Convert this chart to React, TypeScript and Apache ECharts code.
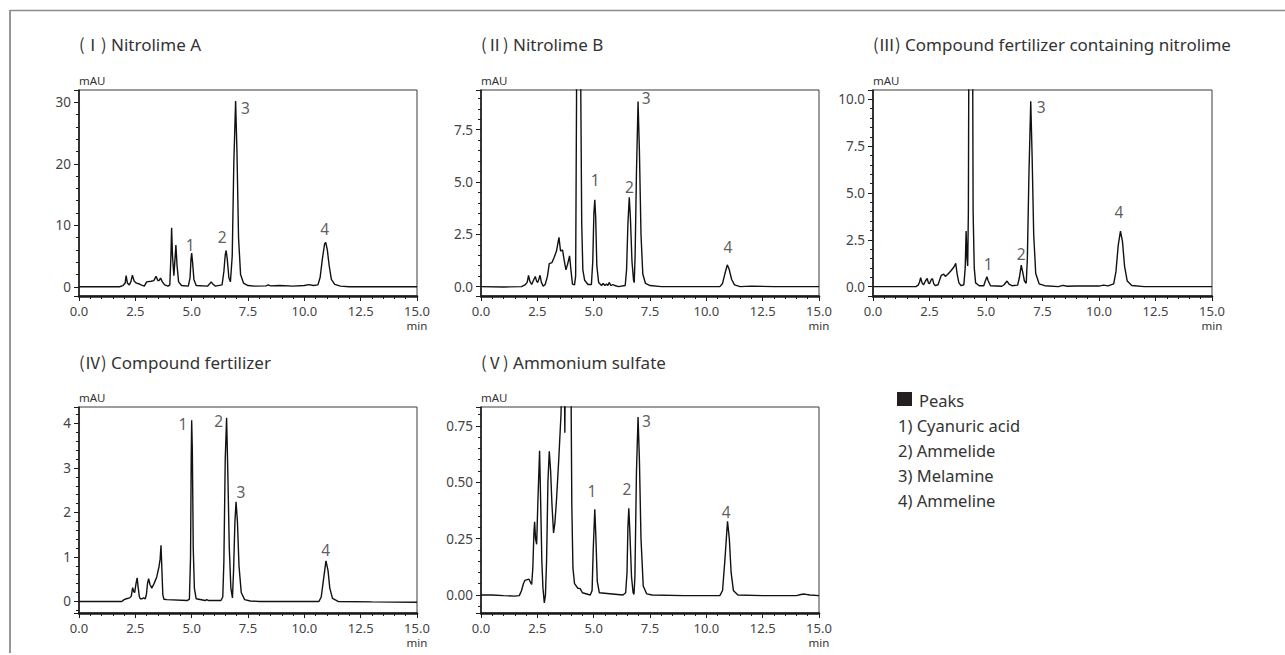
import React, { useEffect, useRef } from 'react';
import * as echarts from 'echarts';

// ---------- data ----------
const panelTitles = ['Nitrolime A', 'Nitrolime B', 'Compound fertilizer containing nitrolime', 'Compound fertilizer', 'Ammonium sulfate'];
const panelNumerals = ['(Ⅰ)', '(Ⅱ)', '(Ⅲ)', '(Ⅳ)', '(Ⅴ)'];
const legendTitle = 'Peaks';
const legendItems = ['1) Cyanuric acid', '2) Ammelide', '3) Melamine', '4) Ammeline'];

const xTicksMin = 0;
const xTicksMax = 15;
const xTickStep = 2.5;

// y axis ranges: [min, max, major step, decimals]
const yRangeI = [-1.5, 32, 10, 0];
const yRangeII = [-0.45, 9.4, 2.5, 1];
const yRangeIII = [-0.5, 10.5, 2.5, 1];
const yRangeIV = [-0.26, 4.37, 1, 0];
const yRangeV = [-0.08, 0.834, 0.25, 2];

// chromatograms [time (min), mAU]
const traceI = [
  [0, 0], [1.8, 0], [1.95, 0.2], [2.05, 0.6], [2.09, 1.8], [2.15, 0.6], [2.23, 0.3], [2.3, 0.8], [2.37, 1.9], [2.45, 0.9],
  [2.55, 0.6], [2.65, 0.5], [2.75, 0.3], [2.9, 0.1], [3.0, 0.8], [3.2, 0.9], [3.32, 1.0], [3.42, 1.7], [3.5, 1.0], [3.55, 1.0],
  [3.62, 1.4], [3.7, 0.8], [3.8, 0.3], [3.95, 0.1], [4.03, 0.3], [4.08, 5], [4.11, 9.6], [4.15, 5], [4.21, 1.8], [4.26, 4.5],
  [4.3, 6.8], [4.35, 3.5], [4.42, 0.8], [4.55, 0.2], [4.85, 0.1], [4.93, 1.5], [4.97, 4.5], [5.0, 5.5], [5.04, 4.0], [5.1, 1.2],
  [5.2, 0.2], [5.7, 0.1], [5.8, 0.5], [5.87, 0.8], [5.95, 0.4], [6.05, 0.1], [6.35, 0.3], [6.43, 2.5], [6.49, 5.2], [6.53, 5.9],
  [6.58, 4.5], [6.65, 1.5], [6.72, 0.8], [6.8, 5], [6.87, 20], [6.95, 30.2], [7.01, 22], [7.08, 8], [7.17, 2], [7.3, 0.6],
  [7.5, 0.2], [7.8, 0.1], [8.3, 0.15], [8.4, 0.3], [8.5, 0.15], [8.9, 0.2], [9.5, 0.1], [10.0, 0.2], [10.2, 0.35], [10.4, 0.2],
  [10.6, 0.3], [10.7, 1.5], [10.8, 4.5], [10.9, 7.0], [10.95, 7.2], [11.02, 6], [11.1, 3.5], [11.2, 1.2], [11.35, 0.4],
  [11.6, 0.1], [12, 0], [15, 0],
];
const traceII = [
  [0, 0], [1.0, -0.02], [1.8, 0.0], [1.95, 0.08], [2.05, 0.2], [2.11, 0.53], [2.17, 0.25], [2.25, 0.1], [2.33, 0.3], [2.41, 0.48],
  [2.47, 0.25], [2.52, 0.2], [2.58, 0.4], [2.62, 0.54], [2.68, 0.2], [2.76, 0.02], [2.85, 0.1], [2.95, 0.5], [3.03, 1.1],
  [3.15, 1.15], [3.25, 1.4], [3.35, 1.7], [3.46, 2.35], [3.53, 1.7], [3.62, 1.75], [3.7, 1.2], [3.77, 0.8], [3.85, 1.1],
  [3.93, 1.47], [4.0, 0.7], [4.06, 0.12], [4.15, 0.08], [4.2, 0.5], [4.24, 9], [4.28, 30], [4.34, 45], [4.4, 30], [4.43, 9],
  [4.47, 3], [4.52, 0.8], [4.6, 0.3], [4.75, 0.1], [4.9, 0.1], [4.96, 1.2], [5.01, 3.5], [5.05, 4.15], [5.09, 3.3], [5.14, 1.0],
  [5.22, 0.2], [5.35, 0.05], [5.42, 0.15], [5.5, 0.05], [5.57, 0.12], [5.63, 0.05], [5.69, 0.2], [5.76, 0.05], [5.85, 0.1],
  [5.94, 0.05], [6.1, 0.0], [6.4, 0.05], [6.46, 0.8], [6.52, 3.0], [6.58, 4.27], [6.63, 3.3], [6.7, 1.2], [6.77, 0.3],
  [6.8, 0.19], [6.84, 1.5], [6.9, 5.5], [6.97, 8.85], [7.03, 6.5], [7.1, 2.5], [7.18, 0.6], [7.3, 0.15], [7.5, 0.05], [8, 0.0],
  [10.6, 0.0], [10.72, 0.15], [10.82, 0.6], [10.93, 1.04], [11.02, 0.8], [11.12, 0.35], [11.25, 0.08], [11.5, 0.0],
  [12, 0.02], [13, 0.0], [15, 0.0],
];
const traceIII = [
  [0, 0], [1.9, 0.0], [2.0, 0.08], [2.06, 0.25], [2.11, 0.48], [2.17, 0.2], [2.24, 0.1], [2.32, 0.3], [2.4, 0.44], [2.45, 0.2],
  [2.5, 0.15], [2.57, 0.35], [2.63, 0.43], [2.69, 0.15], [2.76, 0.05], [2.88, 0.1], [2.96, 0.4], [3.02, 0.6], [3.13, 0.67],
  [3.2, 0.55], [3.3, 0.65], [3.45, 0.85], [3.58, 1.05], [3.66, 1.24], [3.72, 0.7], [3.8, 0.2], [3.9, 0.05], [4.02, 0.1],
  [4.08, 1.0], [4.12, 2.97], [4.16, 1.5], [4.19, 1.1], [4.22, 4], [4.26, 20], [4.33, 45], [4.39, 20], [4.43, 4], [4.48, 1.0],
  [4.54, 0.2], [4.7, 0.05], [4.9, 0.05], [4.97, 0.3], [5.04, 0.53], [5.1, 0.3], [5.2, 0.05], [5.7, 0.02], [5.8, 0.1],
  [5.93, 0.3], [6.03, 0.12], [6.15, 0.05], [6.4, 0.08], [6.48, 0.5], [6.56, 1.15], [6.63, 0.75], [6.7, 0.3], [6.78, 0.18],
  [6.83, 1.5], [6.9, 6], [6.98, 9.9], [7.04, 7], [7.11, 2.8], [7.2, 0.7], [7.35, 0.15], [7.6, 0.05], [8.2, 0.0], [8.4, 0.07],
  [8.6, 0.02], [9.0, 0.03], [10.0, 0.03], [10.2, 0.08], [10.4, 0.04], [10.65, 0.15], [10.75, 0.8], [10.85, 2.2], [10.95, 2.97],
  [11.04, 2.4], [11.13, 1.1], [11.25, 0.3], [11.45, 0.06], [12.0, 0.0], [15, 0.0],
];
const traceIV = [
  [0, 0], [1.9, 0.0], [2.0, 0.04], [2.1, 0.06], [2.25, 0.08], [2.32, 0.12], [2.38, 0.31], [2.43, 0.22], [2.47, 0.2], [2.53, 0.4],
  [2.58, 0.53], [2.63, 0.3], [2.68, 0.1], [2.72, 0.06], [2.8, 0.06], [2.86, 0.08], [2.94, 0.06], [2.99, 0.15], [3.04, 0.4],
  [3.09, 0.51], [3.15, 0.38], [3.23, 0.3], [3.33, 0.4], [3.45, 0.55], [3.55, 0.78], [3.6, 0.95], [3.64, 1.26], [3.68, 0.7],
  [3.72, 0.15], [3.77, 0.05], [3.9, 0.04], [4.8, 0.02], [4.9, 0.05], [4.95, 1.0], [4.98, 3.2], [5.0, 4.07], [5.03, 3.4],
  [5.07, 1.2], [5.12, 0.3], [5.2, 0.06], [5.6, 0.02], [5.67, 0.04], [5.75, 0.02], [6.3, 0.02], [6.38, 0.1], [6.43, 0.9],
  [6.49, 3.2], [6.55, 4.13], [6.6, 3.0], [6.67, 1.2], [6.74, 0.3], [6.81, 0.08], [6.86, 0.7], [6.92, 1.8], [6.97, 2.24],
  [7.03, 1.8], [7.1, 0.8], [7.2, 0.2], [7.35, 0.04], [7.6, 0.01], [8, 0.0], [10.65, 0.0], [10.75, 0.1], [10.84, 0.45],
  [10.96, 0.91], [11.05, 0.7], [11.13, 0.3], [11.25, 0.07], [11.5, 0.0], [13, -0.01], [15, -0.02],
];
const traceV = [
  [0, 0], [0.5, 0.0], [1.0, -0.003], [1.5, -0.005], [1.7, -0.003], [1.8, 0.02], [1.88, 0.05], [1.95, 0.065], [2.05, 0.068],
  [2.13, 0.07], [2.2, 0.055], [2.25, 0.047], [2.3, 0.12], [2.35, 0.28], [2.38, 0.325], [2.42, 0.25], [2.47, 0.225], [2.52, 0.4],
  [2.6, 0.64], [2.65, 0.4], [2.7, 0.15], [2.75, 0.03], [2.81, -0.035], [2.86, 0.0], [2.91, 0.15], [2.97, 0.5], [3.03, 0.638],
  [3.09, 0.55], [3.15, 0.4], [3.22, 0.275], [3.28, 0.32], [3.35, 0.42], [3.45, 0.6], [3.55, 0.8], [3.62, 1.1], [3.68, 1.2],
  [3.72, 0.72], [3.76, 1.2], [3.85, 4], [3.93, 4], [3.99, 1.0], [4.03, 0.4], [4.08, 0.12], [4.15, 0.05], [4.3, 0.03],
  [4.4, 0.028], [4.5, 0.01], [4.85, 0.0], [4.93, 0.02], [4.98, 0.2], [5.05, 0.38], [5.1, 0.25], [5.16, 0.06], [5.25, 0.01],
  [6.3, 0.0], [6.42, 0.01], [6.48, 0.1], [6.52, 0.3], [6.56, 0.385], [6.61, 0.27], [6.68, 0.08], [6.75, 0.01], [6.79, 0.003],
  [6.83, 0.08], [6.9, 0.55], [6.97, 0.79], [7.03, 0.6], [7.1, 0.25], [7.2, 0.04], [7.35, 0.005], [7.6, 0.0], [9.0, -0.003],
  [10.6, -0.003], [10.72, 0.02], [10.82, 0.15], [10.94, 0.327], [11.02, 0.25], [11.1, 0.1], [11.2, 0.02], [11.4, 0.0],
  [12.5, -0.003], [14.0, -0.003], [14.2, 0.002], [14.35, 0.004], [14.6, 0.0], [15, -0.003],
];

// peak number labels [time, mAU, text]
const peakLabelsI = [[4.96, 6.66, '1'], [6.38, 8.07, '2'], [7.41, 29.0, '3'], [10.92, 9.26, '4']];
const peakLabelsII = [[5.09, 5.07, '1'], [6.61, 4.74, '2'], [7.35, 8.97, '3'], [10.98, 1.87, '4']];
const peakLabelsIII = [[5.12, 1.19, '1'], [6.58, 1.74, '2'], [7.46, 9.59, '3'], [10.9, 3.96, '4']];
const peakLabelsIV = [[4.63, 3.98, '1'], [6.22, 4.04, '2'], [7.21, 2.44, '3'], [10.97, 1.15, '4']];
const peakLabelsV = [[4.94, 0.46, '1'], [6.5, 0.468, '2'], [7.36, 0.768, '3'], [10.9, 0.364, '4']];

// ---------- layout / style ----------
const FONT = "'Noto Sans', 'Open Sans', sans-serif";
const CJK = "'Noto Sans CJK JP', 'Noto Sans', sans-serif";
const TEXT = '#333333';
const AXIS = '#1a1a1a';

const grids = [
  { left: 79, top: 90, width: 338, height: 206 },
  { left: 481, top: 90, width: 338, height: 206 },
  { left: 873, top: 90, width: 339, height: 206 },
  { left: 79, top: 407, width: 338, height: 206 },
  { left: 481, top: 407, width: 338, height: 206 },
];
const traces = [traceI, traceII, traceIII, traceIV, traceV];
const yRanges = [yRangeI, yRangeII, yRangeIII, yRangeIV, yRangeV];
const peakLabels = [peakLabelsI, peakLabelsII, peakLabelsIII, peakLabelsIV, peakLabelsV];
const titleY = [44, 44, 44, 362, 362];

function isMultiple(v: number, step: number) {
  const r = v / step;
  return Math.abs(r - Math.round(r)) < 1e-6;
}

function buildOption() {
  const grid = grids.map((g) => ({
    ...g,
    show: true,
    borderColor: '#3a3a3a',
    borderWidth: 1,
    backgroundColor: '#ffffff',
    containLabel: false,
  }));
  const xAxis = grids.map((_, i) => ({
    type: 'value',
    gridIndex: i,
    min: xTicksMin,
    max: xTicksMax,
    interval: xTickStep,
    axisLine: { show: true, onZero: false, lineStyle: { color: AXIS, width: 2.5 } },
    axisTick: { show: true, inside: false, length: 5, lineStyle: { color: AXIS, width: 1 } },
    minorTick: { show: true, splitNumber: 5, length: 3, lineStyle: { color: AXIS, width: 1 } },
    splitLine: { show: false },
    minorSplitLine: { show: false },
    axisLabel: {
      margin: 8,
      fontSize: 13,
      fontFamily: FONT,
      color: '#444444',
      formatter: (v: number) => v.toFixed(1),
    },
  }));
  const yAxis = yRanges.map((r, i) => ({
    type: 'value',
    gridIndex: i,
    min: r[0],
    max: r[1],
    splitNumber: 4,
    minInterval: r[2],
    maxInterval: r[2],
    axisLine: { show: true, onZero: false, lineStyle: { color: AXIS, width: 1.6 } },
    axisTick: { show: true, inside: false, length: 5, lineStyle: { color: AXIS, width: 1 } },
    minorTick: { show: true, splitNumber: 5, length: 3, lineStyle: { color: AXIS, width: 1 } },
    splitLine: { show: false },
    minorSplitLine: { show: false },
    axisLabel: {
      margin: 8,
      fontSize: 13.5,
      fontFamily: FONT,
      color: '#444444',
      formatter: (v: number) => (isMultiple(v, r[2] as number) ? v.toFixed(r[3] as number) : ''),
    },
  }));
  const series: any[] = [];
  traces.forEach((t, i) => {
    series.push({
      type: 'line',
      xAxisIndex: i,
      yAxisIndex: i,
      data: t,
      symbol: 'none',
      showSymbol: false,
      clip: true,
      silent: true,
      lineStyle: { color: '#111111', width: 1.4 },
    });
    series.push({
      type: 'scatter',
      xAxisIndex: i,
      yAxisIndex: i,
      silent: true,
      symbol: 'circle',
      symbolSize: 1,
      itemStyle: { color: 'rgba(0,0,0,0)' },
      data: peakLabels[i].map((p) => ({ name: p[2], value: [p[0], p[1]] })),
      label: {
        show: true,
        position: [0, 0],
        align: 'center',
        verticalAlign: 'middle',
        formatter: '{b}',
        fontSize: 15.5,
        fontFamily: FONT,
        color: TEXT,
        textBorderWidth: 0,
        textBorderColor: 'transparent',
      },
    });
  });

  const graphic: any[] = [
    { type: 'line', shape: { x1: 10, y1: 10.5, x2: 1290, y2: 10.5 }, style: { stroke: '#8c8c8c', lineWidth: 1.5 }, silent: true },
    { type: 'line', shape: { x1: 10, y1: 10, x2: 10, y2: 653 }, style: { stroke: '#8c8c8c', lineWidth: 1.8 }, silent: true },
  ];
  grids.forEach((g, i) => {
    graphic.push({
      type: 'text',
      x: g.left,
      y: titleY[i],
      silent: true,
      style: {
        text: `{n|${panelNumerals[i]}} ${panelTitles[i]}`,
        rich: { n: { fontFamily: CJK, fontSize: 16.5, fill: TEXT } },
        fontFamily: FONT,
        fontSize: 17,
        fill: TEXT,
        align: 'left',
        verticalAlign: 'middle',
      },
    });
    graphic.push({
      type: 'text',
      x: g.left,
      y: g.top - 10,
      silent: true,
      style: { text: 'mAU', fontFamily: FONT, fontSize: 11.5, fill: TEXT, align: 'left', verticalAlign: 'middle' },
    });
    graphic.push({
      type: 'text',
      x: g.left + g.width,
      y: g.top + g.height + 29,
      silent: true,
      style: { text: 'min', fontFamily: FONT, fontSize: 11.5, fill: TEXT, align: 'center', verticalAlign: 'middle' },
    });
  });
  graphic.push({ type: 'rect', shape: { x: 897, y: 392, width: 15, height: 14 }, style: { fill: '#231f20' }, silent: true });
  graphic.push({
    type: 'text',
    x: 919,
    y: 400,
    silent: true,
    style: { text: legendTitle, fontFamily: FONT, fontSize: 16.5, fill: TEXT, align: 'left', verticalAlign: 'middle' },
  });
  legendItems.forEach((s, k) => {
    graphic.push({
      type: 'text',
      x: 898,
      y: 425 + k * 25,
      silent: true,
      style: { text: s, fontFamily: FONT, fontSize: 16.5, fill: TEXT, align: 'left', verticalAlign: 'middle' },
    });
  });

  return {
    animation: false,
    backgroundColor: '#ffffff',
    textStyle: { fontFamily: FONT },
    grid,
    xAxis,
    yAxis,
    series,
    graphic,
  };
}

export default function App() {
  const ref = useRef<HTMLDivElement>(null);
  useEffect(() => {
    if (!ref.current) return;
    const chart = echarts.init(ref.current, undefined, { renderer: 'svg' });
    chart.setOption(buildOption() as any);
    return () => chart.dispose();
  }, []);
  return (
    <div
      ref={ref}
      style={{ position: 'fixed', left: 0, top: 0, width: 1285, height: 655, background: '#fff' }}
    />
  );
}
